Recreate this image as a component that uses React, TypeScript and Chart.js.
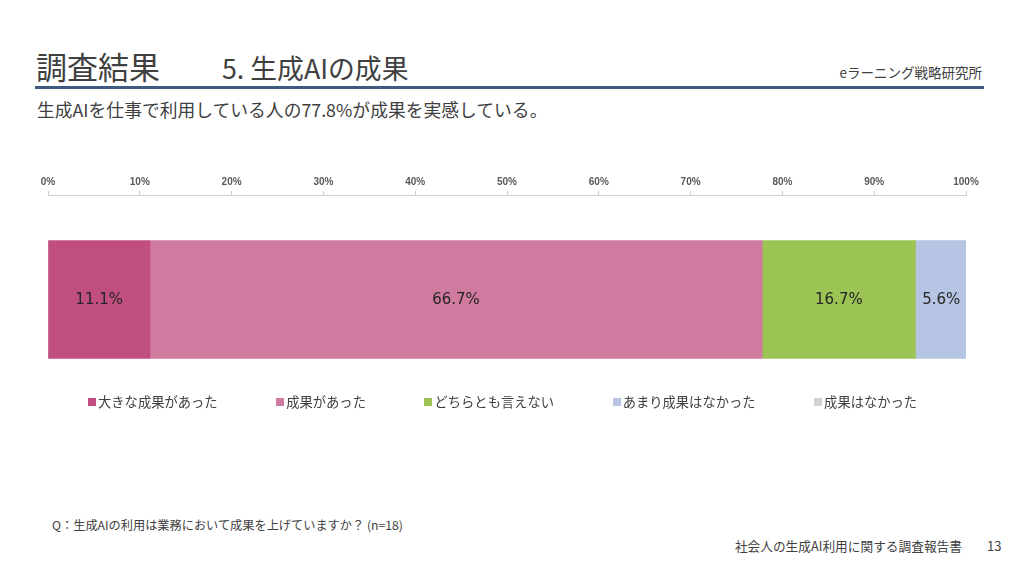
import React, { useEffect, useRef } from "react";
import { Chart, registerables } from "chart.js";

Chart.register(...registerables);

const categories = ["Q"];
const seriesNames = ["大きな成果があった", "成果があった", "どちらとも言えない", "あまり成果はなかった", "成果はなかった"];
const seriesValues = [11.1, 66.7, 16.7, 5.6, 0];
const seriesColors = ["#c04e7e", "#d07aa0", "#9bc455", "#b6c5e3", "#d3d3d3"];
const tickValues = [0, 10, 20, 30, 40, 50, 60, 70, 80, 90, 100];

const valueLabelPlugin = {
  id: "valueLabels",
  afterDatasetsDraw(chart: any) {
    const ctx = chart.ctx;
    ctx.save();
    ctx.font = '15px "DejaVu Sans"';
    ctx.fillStyle = "#262626";
    ctx.textAlign = "center";
    ctx.textBaseline = "middle";
    chart.data.datasets.forEach((ds: any, i: number) => {
      const meta = chart.getDatasetMeta(i);
      meta.data.forEach((el: any, j: number) => {
        const v = ds.data[j];
        if (!v) return;
        const x = (el.x + el.base) / 2;
        ctx.fillText(v.toFixed(1) + "%", x, el.y + 1);
      });
    });
    ctx.restore();
  },
};

const jp = '"Noto Sans CJK JP", "Noto Sans", sans-serif';

export default function App() {
  const canvasRef = useRef<HTMLCanvasElement>(null);

  useEffect(() => {
    if (!canvasRef.current) return;
    const chart = new Chart(canvasRef.current, {
      type: "bar",
      data: {
        labels: categories,
        datasets: seriesNames.map((name, i) => ({
          label: name,
          data: [seriesValues[i]],
          backgroundColor: seriesColors[i],
          borderWidth: 0,
          barThickness: 118,
        })),
      },
      options: {
        indexAxis: "y",
        animation: false,
        responsive: false,
        maintainAspectRatio: false,
        layout: { padding: { left: 48, right: 58, top: 8, bottom: 6 } },
        plugins: { legend: { display: false }, tooltip: { enabled: false } },
        scales: {
          x: {
            position: "top",
            stacked: true,
            min: 0,
            max: 100,
            afterBuildTicks: (axis: any) => {
              axis.ticks = tickValues.map((v) => ({ value: v }));
            },
            ticks: {
              callback: (v: any) => v + "%",
              font: { size: 10, family: '"Liberation Sans", sans-serif', weight: "bold" },
              color: "#595959",
              padding: 3,
              maxRotation: 0,
            },
            grid: { drawOnChartArea: false, drawTicks: true, tickLength: 4, color: "#cfcfcf" },
            border: { display: true, color: "#cfcfcf" },
          },
          y: { stacked: true, display: false },
        },
      },
      plugins: [valueLabelPlugin],
    } as any);
    return () => chart.destroy();
  }, []);

  const abs = (style: React.CSSProperties): React.CSSProperties => ({ position: "absolute", whiteSpace: "nowrap", ...style });

  return (
    <div style={{ position: "absolute", left: 0, top: 0, width: 1024, height: 561, background: "#fff", overflow: "hidden", fontFamily: jp, color: "#404040" }}>
      <div style={abs({ left: 36, top: 46, fontSize: 31, lineHeight: "40px" })}>調査結果</div>
      <div style={abs({ left: 222, top: 50, fontSize: 26.8, lineHeight: "36px" })}>5. 生成AIの成果</div>
      <div style={abs({ right: 42, top: 62, fontSize: 13.5, lineHeight: "20px" })}>eラーニング戦略研究所</div>
      <div style={abs({ left: 35, top: 86, width: 949, height: 2.5, background: "#3d5a80" })} />
      <div style={abs({ left: 37, top: 96, fontSize: 17.8, lineHeight: "26px" })}>生成AIを仕事で利用している人の77.8%が成果を実感している。</div>
      <canvas ref={canvasRef} width={1024} height={245} style={{ position: "absolute", left: 0, top: 165, width: 1024, height: 245 }} />
      <div style={abs({ left: 88, top: 393, display: "flex", alignItems: "center", gap: 58.5, fontSize: 13.3, lineHeight: "18px" })}>
        {seriesNames.map((n, i) => (
          <div key={n} style={{ display: "flex", alignItems: "center" }}>
            <span style={{ display: "inline-block", width: 8, height: 8, background: seriesColors[i], marginRight: 2 }} />
            <span>{n}</span>
          </div>
        ))}
      </div>
      <div style={abs({ left: 52, top: 515, fontSize: 12.2, lineHeight: "20px" })}>Q：生成AIの利用は業務において成果を上げていますか？ (n=18)</div>
      <div style={abs({ right: 62, top: 536, fontSize: 12.7, lineHeight: "20px" })}>社会人の生成AI利用に関する調査報告書</div>
      <div style={abs({ left: 987, top: 536, fontSize: 13, lineHeight: "20px" })}>13</div>
    </div>
  );
}
